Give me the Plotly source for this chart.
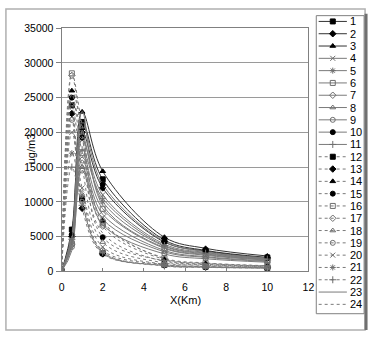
import plotly.graph_objects as go

# distance from source (km)
x_km = [0, 0.5, 1, 2, 5, 7, 10]

# concentration series (ug/m3)
s1 = [0, 6000, 21500, 13240, 4500, 3000, 2000]
s2 = [0, 5000, 20000, 12000, 4200, 2900, 1900]
s3 = [0, 5500, 22950, 14400, 4900, 3300, 2200]
s4 = [0, 4500, 18900, 11000, 3900, 2700, 1800]
s5 = [0, 4800, 19500, 10000, 3600, 2500, 1700]
s6 = [0, 4000, 17000, 9000, 3300, 2300, 1600]
s7 = [0, 3800, 16000, 8200, 3000, 2100, 1500]
s8 = [0, 4200, 15000, 7500, 2800, 2000, 1400]
s9 = [0, 3500, 14500, 6700, 2500, 1800, 1300]
s10 = [0, 5200, 21100, 12500, 4300, 2800, 1900]
s11 = [0, 4600, 17500, 10500, 3700, 2600, 1750]
s12 = [0, 23900, 10460, 2600, 900, 650, 500]
s13 = [0, 22700, 9060, 2500, 850, 600, 480]
s14 = [0, 26000, 20600, 7260, 1800, 1150, 780]
s15 = [0, 25000, 19250, 4900, 1500, 1000, 700]
s16 = [0, 28500, 21000, 7000, 1900, 1200, 800]
s17 = [0, 28200, 19500, 6500, 1700, 1100, 750]
s18 = [0, 24000, 15000, 4200, 1200, 850, 600]
s19 = [0, 21800, 10000, 3000, 950, 680, 500]
s20 = [0, 20000, 12000, 3500, 1000, 700, 520]
s21 = [0, 17000, 11000, 2800, 800, 580, 450]
s22 = [0, 15000, 9500, 2700, 750, 560, 440]
s23 = [0, 3000, 23000, 9500, 3400, 2400, 1650]
s24 = [0, 25500, 17000, 5500, 1400, 950, 650]

series_names = [str(i) for i in range(1, 25)]
series_values = [s1, s2, s3, s4, s5, s6, s7, s8, s9, s10, s11, s12,
                 s13, s14, s15, s16, s17, s18, s19, s20, s21, s22, s23, s24]

y_ticks = [0, 5000, 10000, 15000, 20000, 25000, 30000, 35000]
x_ticks = [0, 2, 4, 6, 8, 10, 12]

# styles
symbols = ["square", "diamond", "triangle-up", "x-thin-open", "asterisk-open",
           "square-open", "diamond-open", "triangle-up-open", "circle-open",
           "circle", "cross-thin-open",
           "square", "diamond", "triangle-up", "circle", "square-open",
           "diamond-open", "triangle-up-open", "circle-open", "x-thin-open",
           "asterisk-open", "cross-thin-open", None, None]
black_marker = {1, 2, 3, 10, 12, 13, 14, 15}
dotted = set(range(12, 23)) | {24}

W, H = 374, 339
FONT = "Liberation Sans, Arial, sans-serif"
TICK_FONT = dict(family=FONT, size=10.5, color="#000")

def px(v):
    return v / W

def py(v):
    return 1 - v / H

fig = go.Figure()

for i, (name, vals) in enumerate(zip(series_names, series_values), start=1):
    sym = symbols[i - 1]
    line_col = "#333333" if i in (1, 2, 3) else "#7a7a7a"
    mcol = "#000000" if i in black_marker else "#6e6e6e"
    dash = "dot" if i in dotted else "solid"
    mode = "lines+markers" if sym else "lines"
    kw = {}
    if sym:
        kw["marker"] = dict(symbol=sym, size=5, color=mcol,
                            line=dict(color=mcol, width=1))
    fig.add_trace(go.Scatter(
        x=x_km, y=vals, name=name, mode=mode,
        line=dict(color=line_col, width=1, dash=dash, shape="spline", smoothing=1),
        showlegend=False, xaxis="x", yaxis="y", **kw))
    # legend sample on its own axes
    fig.add_trace(go.Scatter(
        x=[0.05, 0.64], y=[i, i], mode="lines",
        line=dict(color=line_col, width=1, dash=dash),
        showlegend=False, hoverinfo="skip", xaxis="x2", yaxis="y2"))
    if sym:
        fig.add_trace(go.Scatter(
            x=[0.345], y=[i], mode="markers",
            marker=dict(symbol=sym, size=5, color=mcol, line=dict(color=mcol, width=1)),
            showlegend=False, hoverinfo="skip", xaxis="x2", yaxis="y2"))
    fig.add_annotation(x=0.68, y=i, xref="x2", yref="y2", text=name,
                       showarrow=False, xanchor="left", yanchor="middle",
                       borderpad=0, font=dict(family=FONT, size=11, color="#000"))

fig.update_layout(
    margin=dict(l=0, r=0, t=0, b=0),
    paper_bgcolor="white", plot_bgcolor="white",
    font=dict(family=FONT, size=11, color="#000"),
    xaxis=dict(domain=[px(60), px(313)], range=[0, 12], tickvals=x_ticks,
               showgrid=False, zeroline=False, showline=True, linecolor="#808080",
               linewidth=1, mirror=True, ticks="inside", ticklen=3,
               tickcolor="#808080", ticklabelstandoff=6, tickfont=TICK_FONT),
    yaxis=dict(domain=[py(275), py(23)], range=[0, 35000], tickvals=y_ticks,
               tickformat="d", showgrid=True, gridcolor="#9a9a9a", gridwidth=1,
               zeroline=False, showline=True, linecolor="#808080", linewidth=1,
               mirror=True, ticks="outside", ticklen=5, tickcolor="#808080",
               tickfont=TICK_FONT),
    xaxis2=dict(domain=[px(321), px(370)], range=[0, 1], visible=False,
                fixedrange=True, anchor="y2"),
    yaxis2=dict(domain=[py(319), py(10)], range=[24.76, 0.53], visible=False,
                fixedrange=True, anchor="x2"),
    showlegend=False,
)

# axis titles
fig.add_annotation(x=px(20), y=py(148), xref="paper", yref="paper", text="ug/m3",
                   textangle=-90, showarrow=False,
                   font=dict(family=FONT, size=11, color="#000"))
fig.add_annotation(x=px(187), y=py(313), xref="paper", yref="paper", text="X(Km)",
                   showarrow=False, font=dict(family=FONT, size=11, color="#000"))

# chart frame and legend box
fig.add_shape(type="rect", xref="paper", yref="paper",
              x0=px(3), x1=px(371), y0=py(336), y1=py(3),
              line=dict(color="#b0b0b0", width=1.5), layer="below")
fig.add_shape(type="line", xref="paper", yref="paper",
              x0=px(372), x1=px(372), y0=py(336), y1=py(8),
              line=dict(color="#707070", width=3))
fig.add_shape(type="rect", xref="paper", yref="paper",
              x0=px(321), x1=px(370), y0=py(319), y1=py(10),
              line=dict(color="#808080", width=1), fillcolor="rgba(0,0,0,0)")

# the page body has a default 8px margin; pin the plot div to the top-left corner
fig.write_html("out.html", config={"displayModeBar": False},
               default_width="%dpx" % W,
               default_height="%dpx; position:absolute; left:0; top:0" % H)
